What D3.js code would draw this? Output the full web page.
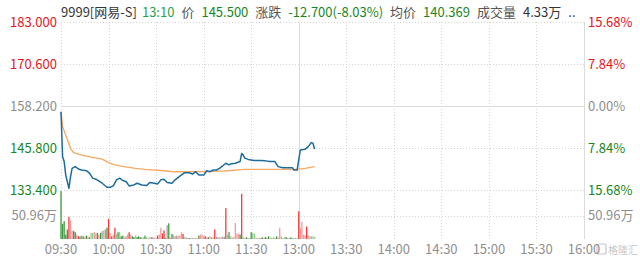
<!DOCTYPE html>
<html lang="zh">
<head>
<meta charset="UTF-8">
<title>9999 网易-S 分时图</title>
<script src="https://d3js.org/d3.v7.min.js"></script>
<style>
  body { margin: 0; background: #fff; }
  svg { display: block; font-family: "Microsoft YaHei", "Noto Sans CJK SC", sans-serif; }
  .grid { stroke: #d4d4d4; stroke-width: 1; stroke-dasharray: 1,2; fill: none; }
  .solid { stroke: #dcdcdc; stroke-width: 1; fill: none; }
  .axis-text { font-size: 13px; }
</style>
</head>
<body>
<svg width="640" height="260"></svg>
<script>
// ---- data ----
const prevClose = 158.2;
const priceTicks = [183.0, 170.6, 158.2, 145.8, 133.4];
const volTick = 50.96;
const timeTicks = ["09:30", "10:00", "10:30", "11:00", "11:30", "13:00",
                   "13:30", "14:00", "14:30", "15:00", "15:30", "16:00"];

const priceTimes = ["09:30","09:31","09:32","09:33","09:35","09:36","09:37","09:39","09:41","09:43",
  "09:46","09:48","09:50","09:52","09:56","09:59","10:01","10:03","10:05","10:07",
  "10:09","10:11","10:13","10:16","10:18","10:21","10:24","10:26","10:29","10:31",
  "10:33","10:35","10:37","10:40","10:42","10:45","10:48","10:51","10:53","10:55",
  "10:57","11:00","11:02","11:04","11:06","11:08","11:10","11:12","11:14","11:16",
  "11:17","11:20","11:23","11:24","11:25","11:26","11:29","11:32","11:36","11:39",
  "11:42","11:45","11:47","11:50","11:56","11:57","11:59","13:00","13:01","13:04",
  "13:06","13:08","13:09","13:10"];
const priceValues = [156.5,143.2,141.8,137.8,133.9,137.3,139.8,140.3,139.6,139.3,
  139.1,138.4,136.9,136.6,135.4,134.2,134.2,134.6,136.4,136.9,
  136.2,135.9,134.6,134.9,135.4,134.9,134.7,135.6,135.4,135.2,
  136.4,136.6,135.6,135.4,136.4,137.5,138.5,138.5,138.1,138.8,
  137.8,137.8,139.1,138.8,139.3,139.3,139.8,140.5,141.3,140.8,
  141.1,141.3,141.8,144.2,143.7,142.8,142.3,142.1,142.1,142.0,
  141.8,141.8,140.3,140.0,140.0,139.3,139.3,142.3,145.2,145.4,
  146.2,147.4,147.2,145.5];

const avgTimes = ["09:30","09:31","09:33","09:36","09:38","09:43","09:49","09:56","10:00","10:04",
  "10:10","10:17","10:23","10:35","10:41","10:54","11:06","11:13","11:26","11:45",
  "11:59","13:04","13:10"];
const avgValues = [156.5,152.1,149.6,145.7,144.4,143.7,143.1,142.5,141.5,140.8,
  140.3,139.8,139.5,139.1,138.8,138.8,138.9,139.0,139.5,139.5,
  139.5,139.8,140.3];

// one bar per trading minute from 09:30 (万股)
const volValues = [104,33,39,9.6,20.7,48,40.6,18.5,17,14.8,
  9.6,5.9,5.9,7.4,5.9,3.7,7.4,5.9,3.7,13.3,
  13.3,14.8,11.8,13.3,9.6,13.3,17,18.5,20.7,24.4,
  44,13.3,5.9,9.6,24.4,11,14.8,14.8,5.9,7.4,
  3.7,5.9,9.6,14.8,9.6,5.9,4.4,7.4,4.4,5.9,
  3.7,4.4,3.7,7.4,4.4,2.2,3.7,4.4,4.4,2.2,
  3.7,7.4,10,24.4,12,18.5,2.2,30,34,3.7,
  11,9.6,5.9,7.4,5.9,8,14.8,11,3.7,3.7,
  2.2,2.2,2.2,2.2,2.2,2.2,2.2,7.4,9.6,9.6,
  5.9,5.9,3.7,3.7,5.9,3.7,4,20.7,5,3.7,
  3.7,4,5,5,67,9.6,14.8,5.9,3.7,3.7,
  35,11.8,11.8,9.6,98,3.7,2.2,3.7,2.2,2.2,
  14.8,13.3,11.8,3.7,2.2,2.2,2.2,3.7,2.2,4.4,
  3,5.9,3.7,2.2,4.4,2.2,5.9,3.7,24.4,5.9,
  2.2,3.7,4.4,2.2,2.2,3.7,2.2,2.2,2.2,2,
  60,24.4,37,9.6,8,27,7.4,5.9,5.9,5.9,4.4];
// R up, r up (light), G down, g down (light), n flat
const volTypes = "GGGGGRrrGG" + "rRGnGrGrGg" + "grrGrGnrnG" + "RrRrRgGgGG" + "rnrRrGGrGG" +
  "GgrGgrrnnr" + "rRrrRRGnGr" + "GrnnrrrRgn" + "gGgnrgrGrr" + "rRrGrnrRnn" +
  "rrnnRrGgrr" + "rrrGRngGng" + "GggrrnnGrG" + "nGgrgnGrrr" + "ggGnrGngng" + "RrrrrRrgrgg";

const header = [
  {t: "9999[网易-S]", c: "#333"}, {t: "13:10", c: "#2ca24a"}, {t: "价", c: "#555"},
  {t: "145.500", c: "#17871d"}, {t: "涨跌", c: "#555"}, {t: "-12.700(-8.03%)", c: "#17871d"},
  {t: "均价", c: "#555"}, {t: "140.369", c: "#17871d"}, {t: "成交量", c: "#555"},
  {t: "4.33万", c: "#333"}, {t: "..", c: "#333"}
];

// ---- layout ----
const left = 61, right = 584;
const priceTop = 22, priceBottom = 190, volBottom = 239;
const red = "#e3161c", green = "#17871d", gray = "#8f8f8f";
const volColor = {R: "#f23c3c", r: "#f59a9a", G: "#3e9a3e", g: "#92cf92", n: "#a3a3a3"};

// trading minute from 09:30, lunch break collapsed
function tradeMin(s) {
  const [h, m] = s.split(":").map(Number);
  const t = h * 60 + m;
  return t >= 780 ? 150 + (t - 780) : t - 570;
}

const svg = d3.select("svg");

const x = d3.scaleLinear().domain([0, 330]).range([left, right]);
const y = d3.scaleLinear().domain([133.4, 183]).range([priceBottom, priceTop]);
const yv = d3.scaleLinear().domain([0, volTick * 2]).range([volBottom, 192]);

// grid
svg.selectAll("line.hgrid")
  .data(priceTicks)
  .enter().append("line")
  .attr("class", d => d === prevClose ? "solid" : "grid")
  .attr("x1", left).attr("x2", right)
  .attr("y1", d => Math.round(y(d)) + 0.5).attr("y2", d => Math.round(y(d)) + 0.5);

svg.append("line").attr("class", "grid")
  .attr("x1", left).attr("x2", right)
  .attr("y1", Math.round(yv(volTick)) + 0.5).attr("y2", Math.round(yv(volTick)) + 0.5);

svg.selectAll("line.vgrid")
  .data(timeTicks)
  .enter().append("line")
  .attr("class", (d, i) => d === "13:00" ? "solid" : (i === timeTicks.length - 1 ? "solid" : "grid"))
  .attr("stroke", (d, i) => i === timeTicks.length - 1 ? "#c8c8c8" : null)
  .attr("x1", d => Math.round(x(tradeMin(d))) + 0.5)
  .attr("x2", d => Math.round(x(tradeMin(d))) + 0.5)
  .attr("y1", priceTop).attr("y2", volBottom);

// y labels
const pctText = d => (Math.abs(d - prevClose) / prevClose * 100).toFixed(2) + "%";
const tickColor = d => d > prevClose ? red : (d < prevClose ? green : gray);

svg.selectAll("text.pl")
  .data(priceTicks)
  .enter().append("text")
  .attr("class", "axis-text")
  .attr("x", 57).attr("y", d => y(d))
  .attr("dy", "0.36em")
  .attr("text-anchor", "end")
  .attr("fill", tickColor)
  .text(d => d.toFixed(3));

svg.selectAll("text.pr")
  .data(priceTicks)
  .enter().append("text")
  .attr("class", "axis-text")
  .attr("x", 588).attr("y", d => y(d))
  .attr("dy", "0.36em")
  .attr("fill", tickColor)
  .text(pctText);

[57, 588].forEach((px, i) => {
  svg.append("text")
    .attr("class", "axis-text")
    .attr("x", px).attr("y", yv(volTick))
    .attr("dy", "0.36em")
    .attr("text-anchor", i === 0 ? "end" : "start")
    .attr("fill", gray)
    .text(volTick.toFixed(2) + "万");
});

// time labels
svg.selectAll("text.tl")
  .data(timeTicks)
  .enter().append("text")
  .attr("class", "axis-text")
  .attr("x", d => x(tradeMin(d)))
  .attr("y", 254)
  .attr("text-anchor", "middle")
  .attr("fill", gray)
  .text(d => d);

// volume bars
svg.selectAll("rect.vol")
  .data(volValues)
  .enter().append("rect")
  .attr("x", (d, i) => x(i) - 0.65)
  .attr("width", 1.3)
  .attr("y", d => yv(d))
  .attr("height", d => volBottom - yv(d))
  .attr("fill", (d, i) => volColor[volTypes[i]]);

// average line and price line
const line = d3.line().x(d => x(d[0])).y(d => y(d[1]));

svg.append("path")
  .datum(avgTimes.map((t, i) => [tradeMin(t), avgValues[i]]))
  .attr("fill", "none")
  .attr("stroke", "#f6a965")
  .attr("stroke-width", 1.4)
  .attr("d", line);

svg.append("path")
  .datum(priceTimes.map((t, i) => [tradeMin(t), priceValues[i]]))
  .attr("fill", "none")
  .attr("stroke", "#1d6c9c")
  .attr("stroke-width", 1.5)
  .attr("stroke-linejoin", "round")
  .attr("d", line);

// header
const head = svg.append("text")
  .attr("x", left).attr("y", 16.5)
  .attr("font-size", 13);
head.selectAll("tspan")
  .data(header)
  .enter().append("tspan")
  .attr("dx", (d, i) => i === 0 ? 0 : (i === 1 ? 5 : 7))
  .attr("fill", d => d.c)
  .text(d => d.t);

// watermark
const wm = svg.append("g").attr("opacity", 0.55);
wm.append("rect")
  .attr("x", 597).attr("y", 244).attr("width", 9).attr("height", 10)
  .attr("rx", 2).attr("fill", "none").attr("stroke", "#999").attr("stroke-width", 1.2);
wm.append("text")
  .attr("x", 608).attr("y", 253.5)
  .attr("font-size", 10).attr("fill", "#999")
  .text("格隆汇");
</script>
</body>
</html>
